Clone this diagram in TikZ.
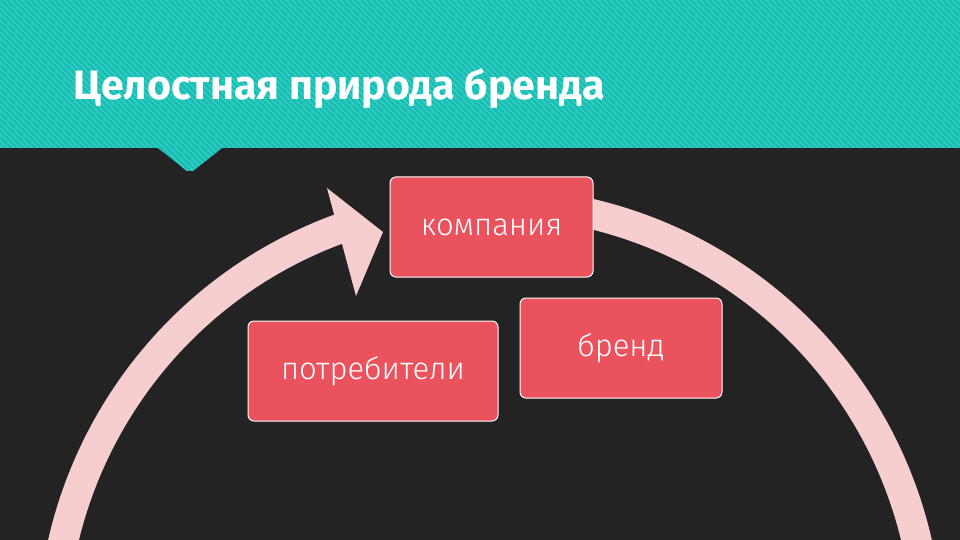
\documentclass[tikz,border=0pt]{standalone}
\usepackage{fontspec}
\setmainfont{Fira Sans}
\newfontfamily\lightf{Fira Sans Light}
\usetikzlibrary{arrows.meta}
\definecolor{teal1}{RGB}{22,190,180}
\definecolor{teal2}{RGB}{60,205,196}
\definecolor{bg}{RGB}{35,35,35}
\definecolor{boxc}{RGB}{234,83,94}
\definecolor{arcc}{RGB}{246,206,208}
\tikzset{bx/.style={draw=white,line width=1pt,fill=boxc,rounded corners=6pt,text=white,font=\lightf\fontsize{31}{34}\selectfont,inner sep=0pt},
arcline/.style={arcc,line width=30pt}}
\begin{document}
\begin{tikzpicture}[x=1pt,y=-1pt]
\useasboundingbox (0,0) rectangle (960,540);
\fill[bg] (0,0) rectangle (960,540);
\begin{scope}
\clip (0,0) -- (960,0) -- (960,148) -- (222,148) -- (193,171) -- (187,171) -- (158,148) -- (0,148) -- cycle;
\fill[teal1] (0,0) rectangle (960,180);
\foreach \i in {-200,-194,...,980} \draw[teal2,line width=1.2pt] (\i,0) -- (\i+180,180);
\end{scope}
\node[anchor=west,text=white,font=\bfseries\fontsize{41}{46}\selectfont] (title) at (70,88) {Целостная природа бренда};
% arc
\draw[arcline] (505.3,202.3) arc[start angle=88,end angle=-12,radius=438pt];
\draw[arcline] (65,746) arc[start angle=194,end angle=109,radius=438pt];
\fill[arcc] (327,188) -- (383,232) -- (356,296) -- cycle;
\node[bx,minimum width=203pt,minimum height=100pt] (comp) at (491.5,227) {компания};
\node[bx,minimum width=202pt,minimum height=100pt] (brand) at (621,348) {бренд};
\node[bx,minimum width=250pt,minimum height=100pt] (cons) at (373,371) {потребители};
\end{tikzpicture}
\end{document}
